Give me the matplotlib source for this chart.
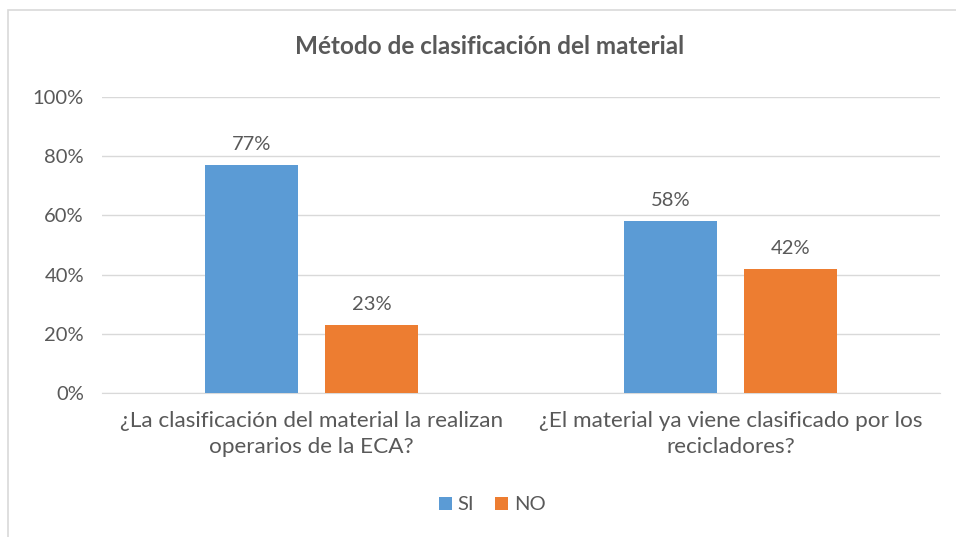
import matplotlib
matplotlib.use("Agg")
import matplotlib.pyplot as plt
from matplotlib.patches import Rectangle
import numpy as np

categories = ["¿La clasificación del material la realizan\noperarios de la ECA?",
              "¿El material ya viene clasificado por los\nrecicladores?"]
si_values = [77, 58]
no_values = [23, 42]
series_names = ["SI", "NO"]
yticks = [0, 20, 40, 60, 80, 100]
title = "Método de clasificación del material"

plt.rcParams['font.family'] = ['Lato', 'DejaVu Sans']
txt = "#595959"
blue = "#5B9BD5"
orange = "#ED7D31"

fig = plt.figure(figsize=(9.56, 5.37), dpi=100)
fig.patches.append(Rectangle((8/956, -0.1), 1.2, 1 - 10/537 + 0.1, transform=fig.transFigure,
                             fill=False, edgecolor="#D9D9D9", linewidth=1.2))
ax = fig.add_axes([102/956, 1 - 393/537, (940-102)/956, (393-97)/537])

x = np.arange(len(categories))
w = 0.222
off = 0.143
b1 = ax.bar(x - off, si_values, w, color=blue, label=series_names[0], zorder=3)
b2 = ax.bar(x + off, no_values, w, color=orange, label=series_names[1], zorder=3)
for bars, vals in ((b1, si_values), (b2, no_values)):
    for r, v in zip(bars, vals):
        ax.text(r.get_x() + r.get_width()/2, v + 4, f"{v}%", ha="center", va="bottom",
                fontsize=14.5, color=txt)

ax.set_xlim(-0.5, 1.5)
ax.set_ylim(0, 100)
ax.set_yticks(yticks)
ax.set_yticklabels([f"{t}%" for t in yticks], fontsize=14.5, color=txt)
ax.set_xticks(x)
ax.set_xticklabels(categories, fontsize=16.2, color=txt, linespacing=1.35)
ax.tick_params(axis="x", length=0, pad=13)
ax.tick_params(axis="y", length=0, pad=13)
ax.grid(axis="y", color="#D9D9D9", linewidth=1, zorder=0)
for s in ["top", "right", "left"]:
    ax.spines[s].set_visible(False)
ax.spines["bottom"].set_color("#D9D9D9")

fig.text(490/956, 1 - 47/537, title, ha="center", va="center", fontsize=17.5,
         fontweight="bold", color=txt)
leg = fig.legend(loc="center", bbox_to_anchor=(492/956, 1 - 505/537), ncol=2, frameon=False,
                 fontsize=14.5, handlelength=0.65, handleheight=0.65, handletextpad=0.3,
                 columnspacing=1.0)
for t in leg.get_texts():
    t.set_color(txt)

fig.savefig("out.png", dpi=100)
